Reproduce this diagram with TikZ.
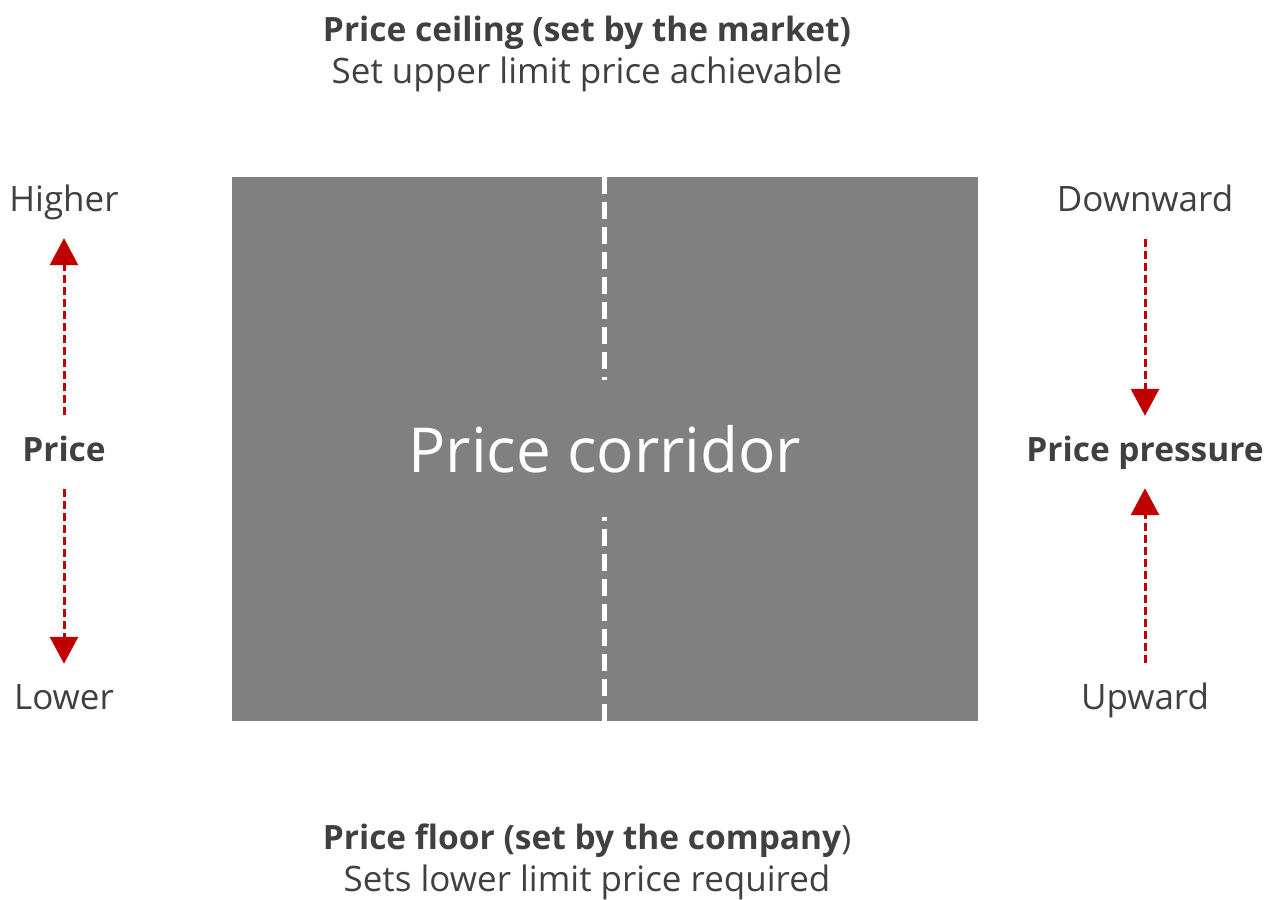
\documentclass[tikz,border=0pt]{standalone}
\usepackage{fontspec}
\setmainfont{Open Sans}
\usepackage{tikz}
\usetikzlibrary{arrows.meta,positioning,calc}
\definecolor{inkGrey}{RGB}{64, 64, 64}
\definecolor{boxGrey}{RGB}{128, 128, 128}
\definecolor{pushRed}{RGB}{192, 0, 0}
\newcommand{\heavy}[1]{{\fontsize{33.5pt}{42pt}\selectfont\bfseries #1}}

\begin{document}
\begin{tikzpicture}[x=1pt, y=-1pt,
    lbl/.style={inner sep=0pt, text height=27pt, text depth=9pt, text=inkGrey,
        font=\fontsize{35pt}{42pt}\selectfont},
    pricearrow/.style={draw=pushRed, line width=3pt, dash pattern=on 8pt off 4pt,
        -{Triangle[length=27pt, width=28pt]}, shorten <=19pt, shorten >=18pt}]
    \useasboundingbox (0,0) rectangle (1265,899);

    % the corridor
    \node[fill=boxGrey, minimum width=746pt, minimum height=544pt, inner sep=0pt,
        text=white, font=\fontsize{62pt}{70pt}\selectfont] (corridor) at (605,449) {Price corridor};
    \draw[white, line width=5pt, dash pattern=on 17pt off 8pt]
        ([xshift=-1pt]corridor.north) -- ([xshift=-1pt, yshift=-203pt]corridor.north);
    \draw[white, line width=5pt, dash pattern=on 17pt off 8pt]
        ([xshift=-1pt]corridor.south) -- ([xshift=-1pt, yshift=204pt]corridor.south);

    % ceiling and floor
    \node[lbl, text height=, text depth=, align=center] (ceiling) at (587,54)
        {\heavy{Price ceiling (set by the market)}\\Set upper limit price achievable};
    \node[lbl, text height=, text depth=, align=center] (floor) at (587,862)
        {\heavy{Price floor (set by the company}{\fontsize{33.5pt}{42pt}\selectfont)}\\Sets lower limit price required};

    % price direction
    \node[lbl] (higher) at (64,202) {Higher};
    \node[lbl] (price) at (64,452) {\heavy{Price}};
    \node[lbl] (lower) at (64,700) {Lower};
    \draw[pricearrow] (price) -- (higher);
    \draw[pricearrow] (price) -- (lower);

    % price pressure
    \node[lbl] (downward) at (1145,202) {Downward};
    \node[lbl] (pressure) at (1145,452) {\heavy{Price pressure}};
    \node[lbl] (upward) at (1145,700) {Upward};
    \draw[pricearrow] (downward) -- (pressure);
    \draw[pricearrow] (upward) -- (pressure);
\end{tikzpicture}
\end{document}
